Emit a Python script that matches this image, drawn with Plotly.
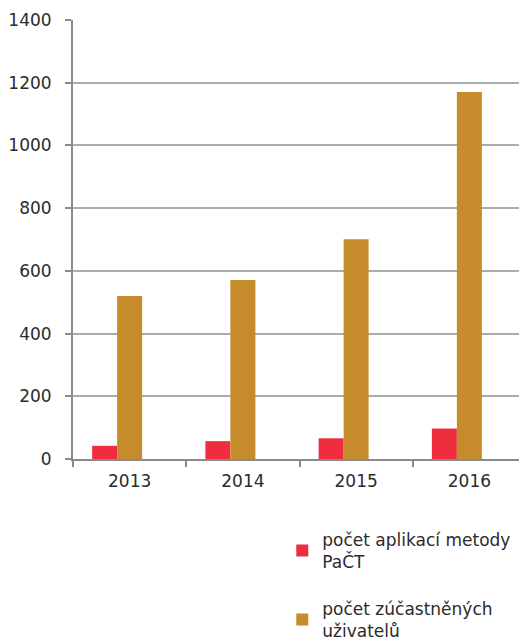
import plotly.graph_objects as go

years = ["2013", "2014", "2015", "2016"]
aplikace = [42, 57, 66, 97]
uzivatele = [520, 571, 701, 1170]
series_names = ["počet aplikací metody<br>PaČT", "počet zúčastněných<br>uživatelů"]
colors = ["#EE2D3F", "#C68B2A"]

fig = go.Figure()
fig.add_trace(go.Bar(x=years, y=aplikace, name=series_names[0], marker_color=colors[0],
                     legendgroup="a", marker_line_width=0))
fig.add_trace(go.Bar(x=years, y=uzivatele, name=series_names[1], marker_color=colors[1],
                     legendgroup="b", marker_line_width=0))
fig.add_trace(go.Bar(x=years, y=[None]*4, showlegend=False, hoverinfo="skip"))

fig.update_layout(
    width=519, height=636,
    margin=dict(l=65, r=1, t=12, b=185, autoexpand=False),
    plot_bgcolor="white", paper_bgcolor="white",
    font=dict(family="DejaVu Sans", size=17, color="#2b2b2b"),
    barmode="group", bargap=0.338, bargroupgap=0,
    legend=dict(x=0.462, y=-0.143, xanchor="left", yanchor="top",
                traceorder="grouped", tracegroupgap=22,
                font=dict(size=17, color="#2b2b2b")),
)
fig.update_yaxes(range=[0, 1400], dtick=200, showgrid=True, gridcolor="#ABABAB", gridwidth=1.5,
                 showline=True, linecolor="#8A8A8E", linewidth=2, ticks="outside",
                 ticklen=6, tickcolor="#8A8A8E", tickwidth=2, zeroline=False,
                 ticklabelstandoff=10)
fig.update_xaxes(showline=True, linecolor="#8A8A8E", linewidth=2, ticks="outside",
                 tickson="boundaries", ticklen=6, tickcolor="#8A8A8E", tickwidth=2,
                 ticklabelstandoff=6)

fig.write_html("out.html")
